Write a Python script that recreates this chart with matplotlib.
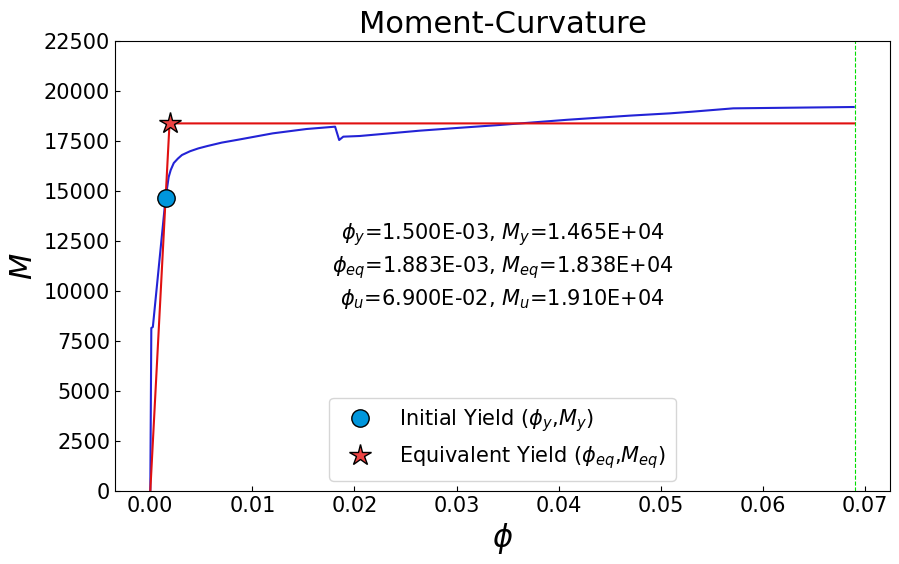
import matplotlib
matplotlib.use("Agg")
import matplotlib.pyplot as plt

# Moment-curvature curve
phi = [0.0, 0.0001, 0.00025, 0.0015, 0.0016, 0.0018, 0.0020, 0.0023, 0.0027,
       0.0031, 0.0039, 0.0047, 0.0056, 0.0070, 0.0088, 0.0120, 0.0153, 0.0181,
       0.0185, 0.0189, 0.0205, 0.0264, 0.0300, 0.0342, 0.0408,
       0.0470, 0.0509, 0.0531, 0.0571, 0.0689]
moment = [0.0, 8150, 8200, 14650, 15000, 15700, 16050, 16400, 16620,
          16800, 16990, 17130, 17250, 17420, 17583, 17883, 18100, 18217,
          17550, 17717, 17750, 18017, 18150, 18300, 18560,
          18770, 18883, 18967, 19133, 19200]

# Idealised bilinear curve
phi_bilin = [0.0, 0.001883, 0.069]
m_bilin = [0.0, 18380, 18380]

phi_y, M_y = 1.500e-3, 1.465e4
phi_eq, M_eq = 1.883e-3, 1.838e4
phi_u, M_u = 6.900e-2, 1.910e4

yticks = list(range(0, 22501, 2500))

fig = plt.figure(figsize=(8.99, 5.64), dpi=100)
ax = fig.add_axes([0.128, 0.1294, 0.862, 0.7979])

ax.plot(phi, moment, color='#2323d6', lw=1.5)
ax.plot(phi_bilin, m_bilin, color='#e01010', lw=1.5)
ax.axvline(phi_u, color='#00dd00', lw=0.8, ls='--')
ax.plot([phi_y], [M_y], 'o', color='#0096dc', mec='black', mew=1.0, ms=12.5,
        ls='none', label=r'Initial Yield ($\phi_y$,$M_y$)')
ax.plot([phi_eq], [M_eq], '*', color='#ee4444', mec='black', mew=1.0, ms=16,
        ls='none', label=r'Equivalent Yield ($\phi_{eq}$,$M_{eq}$)')

ax.set_ylim(0, 22500)
ax.set_yticks(yticks)
ax.tick_params(direction='in', labelsize=15)
ax.set_xlabel(r'$\phi$', fontsize=22)
ax.set_ylabel(r'$M$', fontsize=22)
ax.set_title('Moment-Curvature', fontsize=22)

txt = (r'$\phi_y$=%.3E, $M_y$=%.3E' % (phi_y, M_y) + '\n' +
       r'$\phi_{eq}$=%.3E, $M_{eq}$=%.3E' % (phi_eq, M_eq) + '\n' +
       r'$\phi_u$=%.3E, $M_u$=%.3E' % (phi_u, M_u))
ax.text(0.5, 0.5, txt, transform=ax.transAxes, ha='center', va='center',
        fontsize=15, linespacing=1.35)

ax.legend(loc='lower center', fontsize=15, handletextpad=0.9, borderpad=0.45)

fig.savefig('out.png', dpi=100)
